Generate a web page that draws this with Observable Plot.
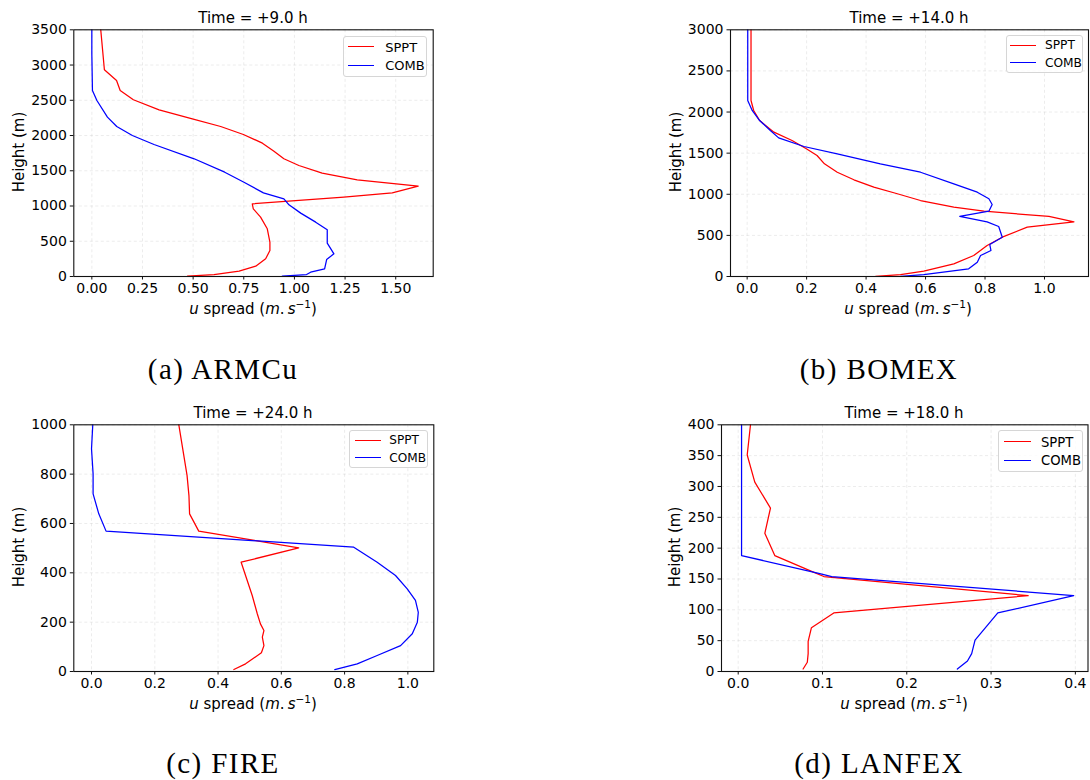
<!DOCTYPE html>
<html>
<head>
<meta charset="utf-8">
<script src="https://cdn.jsdelivr.net/npm/d3@7"></script>
<script src="https://cdn.jsdelivr.net/npm/@observablehq/plot@0.6"></script>
<style>
  html, body { margin: 0; padding: 0; background: #fff; }
  #root { position: relative; width: 1090px; height: 780px; overflow: hidden; background: #fff; font-family: "DejaVu Sans", sans-serif; color: #000; }
  .panel { position: absolute; }
  .t { position: absolute; transform: translate(-50%, -50%); white-space: nowrap; font-family: "DejaVu Sans", sans-serif; color: #000; }
  .yl { position: absolute; transform: translate(-50%, -50%) rotate(-90deg); white-space: nowrap; font-family: "DejaVu Sans", sans-serif; font-size: 15px; }
  .cap { position: absolute; transform: translate(-50%, -50%); white-space: nowrap; font-family: "Liberation Serif", serif; font-size: 29px; letter-spacing: 1.4px; }
  .leg { position: absolute; border: 1px solid #d6d6d6; border-radius: 3px; background: rgba(255,255,255,0.8); box-sizing: border-box; }
  .leg .ln { position: absolute; height: 0; border-top: 1.3px solid; }
  .leg .lt { position: absolute; transform: translateY(-50%); font-family: "DejaVu Sans", sans-serif; white-space: nowrap; }
  sup { font-size: 70%; vertical-align: 0.55em; line-height: 0; }
</style>
</head>
<body>
<div id="root"></div>
<script>
// ---------------- DATA ----------------
const seriesNames = ["SPPT", "COMB"];
const seriesColors = ["red", "blue"];
const caseNames = ["(a) ARMCu", "(b) BOMEX", "(c) FIRE", "(d) LANFEX"];
const caseTitles = ["Time = +9.0 h", "Time = +14.0 h", "Time = +24.0 h", "Time = +18.0 h"];

// (a) ARMCu
const armcuSpptU = [0.044,0.062,0.122,0.140,0.205,0.332,0.496,0.636,0.748,0.842,0.899,0.948,1.022,1.137,1.310,1.611,1.483,1.244,0.792,0.797,0.833,0.866,0.879,0.879,0.858,0.809,0.727,0.603,0.472];
const armcuSpptZ = [3500,2933,2781,2639,2507,2365,2237,2128,2015,1892,1778,1670,1575,1466,1372,1282,1187,1125,1031,960,842,677,487,369,251,147,76,28,5];
const armcuCombU = [0.0,0.0,0.003,0.025,0.077,0.123,0.200,0.307,0.505,0.656,0.751,0.847,0.948,0.973,1.031,1.105,1.162,1.162,1.195,1.159,1.149,1.080,1.060,0.940];
const armcuCombZ = [3500,3160,2639,2497,2261,2128,2001,1873,1670,1480,1338,1187,1102,1017,899,771,662,473,322,241,109,61,28,5];

// (b) BOMEX
const bomexSpptU = [0.013,0.013,0.022,0.042,0.090,0.151,0.199,0.235,0.260,0.303,0.359,0.426,0.505,0.583,0.695,0.796,1.015,1.099,0.942,0.858,0.807,0.762,0.695,0.594,0.516,0.432];
const bomexSpptZ = [3000,2140,2019,1897,1755,1654,1553,1471,1370,1268,1176,1086,1006,924,843,794,730,665,600,478,377,255,154,65,24,3];
const bomexCombU = [0.002,0.002,0.017,0.042,0.078,0.106,0.191,0.303,0.448,0.583,0.695,0.774,0.813,0.824,0.813,0.715,0.807,0.846,0.858,0.816,0.820,0.785,0.774,0.745,0.594,0.516];
const bomexCombZ = [3000,2140,2019,1897,1775,1686,1581,1492,1370,1268,1127,1025,945,876,794,730,665,608,478,389,316,255,174,93,24,3];

// (c) FIRE
const fireSpptU = [0.276,0.302,0.308,0.310,0.339,0.655,0.473,0.508,0.524,0.534,0.545,0.540,0.545,0.537,0.487,0.450];
const fireSpptZ = [1000,795,713,639,569,501,443,308,234,193,166,139,105,76,31,8];
const fireCombU = [0.004,0.0,0.005,0.005,0.023,0.046,0.829,0.903,0.961,0.998,1.024,1.033,1.030,1.014,0.977,0.903,0.840,0.769];
const fireCombZ = [1000,903,801,720,639,569,504,443,389,335,288,240,200,153,105,65,31,8];

// (d) LANFEX
const lanfexSpptU = [0.0146,0.0107,0.0197,0.0383,0.0316,0.0434,0.0878,0.1016,0.344,0.1134,0.0869,0.083,0.083,0.082,0.077];
const lanfexSpptZ = [400,351,307,265,224,188,162,154,123,95,71,49,29,15,4];
const lanfexCombU = [0.004,0.004,0.0956,0.111,0.398,0.308,0.281,0.277,0.272,0.260];
const lanfexCombZ = [400,188,159,154,123,95,51,29,17,4];

// tick values
const armcuXTicks = [0, 0.25, 0.5, 0.75, 1.0, 1.25, 1.5];
const armcuYTicks = [0, 500, 1000, 1500, 2000, 2500, 3000, 3500];
const bomexXTicks = [0, 0.2, 0.4, 0.6, 0.8, 1.0];
const bomexYTicks = [0, 500, 1000, 1500, 2000, 2500, 3000];
const fireXTicks = [0, 0.2, 0.4, 0.6, 0.8, 1.0];
const fireYTicks = [0, 200, 400, 600, 800, 1000];
const lanfexXTicks = [0, 0.1, 0.2, 0.3, 0.4];
const lanfexYTicks = [0, 50, 100, 150, 200, 250, 300, 350, 400];

// ---------------- LAYOUT ----------------
function toRows(U, Z) { return U.map((u, i) => ({u, z: Z[i]})); }

const panels = [
  { name: caseNames[0], title: caseTitles[0], left: 0, top: 0, w: 440, h: 300,
    m: {l: 73.3, t: 29.3, r: 7.3, b: 24}, xd: [-0.089, 1.685], yd: [0, 3500],
    xt: armcuXTicks, yt: armcuYTicks, xf: d3.format(".2f"),
    s: [toRows(armcuSpptU, armcuSpptZ), toRows(armcuCombU, armcuCombZ)],
    titleXY: [253, 18], xlXY: [253, 309], ylXY: [19, 152], capXY: [223, 369],
    leg: {x: 342.7, y: 35.7, w: 84.6, h: 41, rows: [45.7, 64.3], lx: [347.3, 373.3], tx: 384.3, fs: 13} },
  { name: caseNames[1], title: caseTitles[1], left: 650, top: 0, w: 440, h: 300,
    m: {l: 80, t: 29.3, r: 2, b: 24}, xd: [-0.056, 1.148], yd: [0, 3000],
    xt: bomexXTicks, yt: bomexYTicks, xf: d3.format(".1f"),
    s: [toRows(bomexSpptU, bomexSpptZ), toRows(bomexCombU, bomexCombZ)],
    titleXY: [909, 18], xlXY: [908, 309], ylXY: [676, 152], capXY: [879, 369],
    leg: {x: 1005.7, y: 35, w: 77, h: 37.7, rows: [44.3, 61.7], lx: [1009.3, 1035], tx: 1044, fs: 12.2} },
  { name: caseNames[2], title: caseTitles[2], left: 0, top: 395, w: 440, h: 300,
    m: {l: 73.3, t: 29.3, r: 6.7, b: 24}, xd: [-0.056, 1.082], yd: [0, 1000],
    xt: fireXTicks, yt: fireYTicks, xf: d3.format(".1f"),
    s: [toRows(fireSpptU, fireSpptZ), toRows(fireCombU, fireCombZ)],
    titleXY: [253, 413], xlXY: [253, 704], ylXY: [19, 547], capXY: [223, 763],
    leg: {x: 349.3, y: 430, w: 79, h: 38.3, rows: [439.3, 456.7], lx: [354, 380], tx: 388.3, fs: 12.1} },
  { name: caseNames[3], title: caseTitles[3], left: 650, top: 395, w: 440, h: 300,
    m: {l: 71, t: 29.3, r: 2.5, b: 24}, xd: [-0.0198, 0.415], yd: [0, 400],
    xt: lanfexXTicks, yt: lanfexYTicks, xf: d3.format(".1f"),
    s: [toRows(lanfexSpptU, lanfexSpptZ), toRows(lanfexCombU, lanfexCombZ)],
    titleXY: [904, 413], xlXY: [904, 704], ylXY: [675, 547], capXY: [879, 763],
    leg: {x: 998.3, y: 430, w: 85, h: 41.7, rows: [441, 459.3], lx: [1003.3, 1030], tx: 1040, fs: 13.2} }
];

const root = document.getElementById("root");

function addText(cls, xy, html, extra) {
  const d = document.createElement("div");
  d.className = cls;
  d.style.left = xy[0] + "px";
  d.style.top = xy[1] + "px";
  d.innerHTML = html;
  if (extra) Object.assign(d.style, extra);
  root.appendChild(d);
  return d;
}

for (const p of panels) {
  const chart = Plot.plot({
    width: p.w, height: p.h,
    marginLeft: p.m.l, marginTop: p.m.t, marginRight: p.m.r, marginBottom: p.m.b,
    style: {fontFamily: "DejaVu Sans", fontSize: "14px", color: "#000", background: "transparent", overflow: "visible"},
    x: {domain: p.xd, label: null},
    y: {domain: p.yd, label: null},
    marks: [
      Plot.gridX(p.xt, {stroke: "#b0b0b0", strokeOpacity: 0.3, strokeDasharray: "3,2.5", strokeWidth: 0.8}),
      Plot.gridY(p.yt, {stroke: "#b0b0b0", strokeOpacity: 0.3, strokeDasharray: "3,2.5", strokeWidth: 0.8}),
      ...p.s.map((rows, i) => Plot.line(rows, {x: "u", y: "z", stroke: seriesColors[i], strokeWidth: 1.25})),
      Plot.frame({stroke: "#111", strokeWidth: 1.1}),
      Plot.axisX(p.xt, {tickFormat: p.xf, tickSize: 3.5, tickPadding: 3, fontSize: 14, label: null, stroke: "#111"}),
      Plot.axisY(p.yt, {tickFormat: d3.format("d"), tickSize: 3.5, tickPadding: 3.5, fontSize: 14, label: null, stroke: "#111"})
    ]
  });
  const holder = document.createElement("div");
  holder.className = "panel";
  holder.style.left = p.left + "px";
  holder.style.top = p.top + "px";
  holder.appendChild(chart);
  root.appendChild(holder);

  addText("t", p.titleXY, p.title, {fontSize: "15px"});
  addText("t", p.xlXY, '<i>u</i> spread (<i>m</i>.\u2009<i>s</i><sup>\u22121</sup>)', {fontSize: "15px"});
  addText("yl", p.ylXY, "Height (m)");
  addText("cap", p.capXY, p.name);

  // legend
  const L = p.leg;
  const box = document.createElement("div");
  box.className = "leg";
  box.style.left = L.x + "px"; box.style.top = L.y + "px";
  box.style.width = L.w + "px"; box.style.height = L.h + "px";
  seriesNames.forEach((nm, i) => {
    const ry = L.rows[i] - L.y;
    const ln = document.createElement("div");
    ln.className = "ln";
    ln.style.left = (L.lx[0] - L.x) + "px";
    ln.style.width = (L.lx[1] - L.lx[0]) + "px";
    ln.style.top = (ry - 0.6) + "px";
    ln.style.borderTopColor = seriesColors[i];
    box.appendChild(ln);
    const tx = document.createElement("div");
    tx.className = "lt";
    tx.style.left = (L.tx - L.x) + "px";
    tx.style.top = ry + "px";
    tx.style.fontSize = L.fs + "px";
    tx.textContent = nm;
    box.appendChild(tx);
  });
  root.appendChild(box);
}
</script>
</body>
</html>
